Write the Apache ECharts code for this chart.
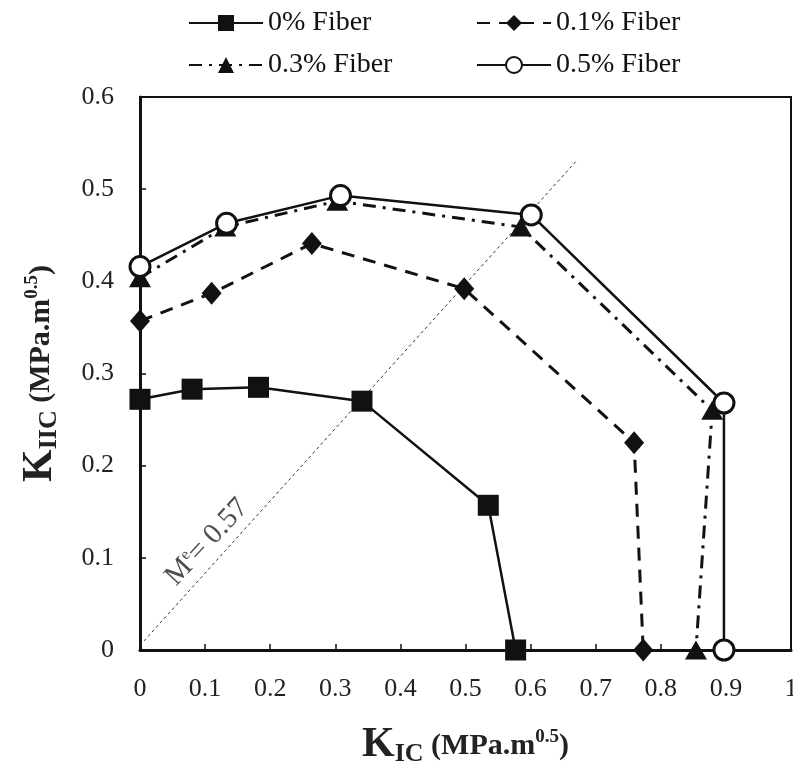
<!DOCTYPE html>
<html>
<head>
<meta charset="utf-8">
<script src="https://cdn.jsdelivr.net/npm/echarts@6/dist/echarts.min.js"></script>
<style>
html,body{margin:0;padding:0;background:#fff;}
#chart{width:793px;height:765px;}
</style>
</head>
<body>
<div id="chart"></div>
<script>
// Data
const seriesNames = ['0% Fiber', '0.1% Fiber', '0.3% Fiber', '0.5% Fiber'];
const kic0  = [0, 0.080, 0.182, 0.341, 0.535, 0.577];
const kiic0 = [0.272, 0.283, 0.285, 0.270, 0.157, 0];
const kic1  = [0, 0.110, 0.264, 0.498, 0.759, 0.773];
const kiic1 = [0.357, 0.387, 0.441, 0.392, 0.225, 0];
const kic3  = [0, 0.131, 0.303, 0.585, 0.879, 0.854];
const kiic3 = [0.404, 0.459, 0.487, 0.459, 0.260, 0];
const kic5  = [0, 0.133, 0.308, 0.601, 0.897, 0.897];
const kiic5 = [0.416, 0.463, 0.493, 0.472, 0.268, 0];
const meLineX = [0, 0.672];
const meLineY = [0.005, 0.532];
const meLabelPos = [0.103, 0.117];
const xTicks = { min: 0, max: 1, interval: 0.1 };
const yTicks = { min: 0, max: 0.6, interval: 0.1 };

const pairs = (xs, ys) => xs.map((x, i) => [x, ys[i]]);
const FONT = 'Liberation Serif';

const chart = echarts.init(document.getElementById('chart'), null, { renderer: 'canvas' });

const legendBase = {
  orient: 'vertical',
  top: 4,
  itemWidth: 74,
  itemHeight: 20,
  itemGap: 14,
  textStyle: { fontFamily: FONT, fontSize: 28, color: '#111' },
  inactiveColor: '#111'
};

const titleRich = {
  K:   { fontFamily: FONT, fontSize: 42, fontWeight: 'bold', color: '#222', lineHeight: 44, verticalAlign: 'middle' },
  sub: { fontFamily: FONT, fontSize: 26, fontWeight: 'bold', color: '#222', lineHeight: 44, verticalAlign: 'middle', padding: [18, 0, 0, 0] },
  u:   { fontFamily: FONT, fontSize: 30, fontWeight: 'bold', color: '#222', lineHeight: 44, verticalAlign: 'middle', padding: [2, 0, 0, 0] },
  sup: { fontFamily: FONT, fontSize: 19, fontWeight: 'bold', color: '#222', lineHeight: 44, verticalAlign: 'middle', padding: [0, 0, 16, 0] }
};

const option = {
  animation: false,
  backgroundColor: '#fff',
  legend: [
    Object.assign({}, legendBase, { left: 183, data: [seriesNames[0], seriesNames[2]] }),
    Object.assign({}, legendBase, { left: 471, data: [seriesNames[1], seriesNames[3]] })
  ],
  grid: {
    left: 140, right: 2, top: 97, bottom: 115,
    outerBoundsMode: 'none',
    containLabel: false,
    show: true, borderColor: '#111', borderWidth: 2, backgroundColor: 'transparent'
  },
  xAxis: {
    type: 'value', min: xTicks.min, max: xTicks.max, interval: xTicks.interval,
    axisLine: { show: true, onZero: false, lineStyle: { color: '#111', width: 3 } },
    axisTick: { show: true, inside: true, length: 6, lineStyle: { color: '#111', width: 1.5 } },
    splitLine: { show: false },
    axisLabel: {
      fontFamily: FONT, fontSize: 26, color: '#222', margin: 26,
      formatter: v => (Math.round(v * 10) / 10).toString()
    },
    name: '{K|K}{sub|IC}{u| (MPa.m}{sup|0.5}{u|)}',
    nameLocation: 'middle',
    nameGap: 73,
    nameTextStyle: { fontFamily: FONT, color: '#222', rich: titleRich }
  },
  yAxis: {
    type: 'value', min: yTicks.min, max: yTicks.max, interval: yTicks.interval,
    axisLine: { show: true, onZero: false, lineStyle: { color: '#111', width: 3 } },
    axisTick: { show: true, inside: true, length: 6, lineStyle: { color: '#111', width: 1.5 } },
    splitLine: { show: false },
    axisLabel: {
      fontFamily: FONT, fontSize: 26, color: '#222', margin: 26,
      formatter: v => (Math.round(v * 10) / 10).toString()
    },
    name: '{K|K}{sub|IIC}{u| (MPa.m}{sup|0.5}{u|)}',
    nameLocation: 'middle',
    nameRotate: 90,
    nameGap: 78,
    nameTextStyle: { fontFamily: FONT, color: '#222', rich: titleRich }
  },
  series: [
    {
      type: 'line', silent: true, symbol: 'none', z: 1,
      data: pairs(meLineX, meLineY),
      lineStyle: { color: '#333', width: 1, type: [3, 3] }
    },
    {
      type: 'scatter', silent: true, symbolSize: 0, z: 1,
      data: [meLabelPos],
      label: {
        show: true, position: 'inside', rotate: 47,
        formatter: '{m|M}{e|e}{m|= 0.57}',
        rich: {
          m: { fontFamily: FONT, fontSize: 29, color: '#222', lineHeight: 30, verticalAlign: 'middle' },
          e: { fontFamily: FONT, fontSize: 16, color: '#222', lineHeight: 30, verticalAlign: 'middle', padding: [0, 0, 14, 0] }
        }
      }
    },
    {
      name: seriesNames[0], type: 'line', z: 3,
      data: pairs(kic0, kiic0),
      symbol: 'rect', symbolSize: 21,
      itemStyle: { color: '#111' },
      lineStyle: { color: '#111', width: 2.5, type: 'solid' }
    },
    {
      name: seriesNames[1], type: 'line', z: 3,
      data: pairs(kic1, kiic1),
      symbol: 'diamond', symbolSize: [20, 23],
      itemStyle: { color: '#111' },
      lineStyle: { color: '#111', width: 3, type: [13, 9] }
    },
    {
      name: seriesNames[2], type: 'line', z: 3,
      data: pairs(kic3, kiic3),
      symbol: 'triangle', symbolSize: [22, 19],
      itemStyle: { color: '#111' },
      lineStyle: { color: '#111', width: 3, type: [13, 7, 3, 7] }
    },
    {
      name: seriesNames[3], type: 'line', z: 4,
      data: pairs(kic5, kiic5),
      symbol: 'circle', symbolSize: 20,
      itemStyle: { color: '#fff', borderColor: '#111', borderWidth: 3 },
      lineStyle: { color: '#111', width: 2.5, type: 'solid' }
    }
  ]
};

chart.setOption(option);
</script>
</body>
</html>
